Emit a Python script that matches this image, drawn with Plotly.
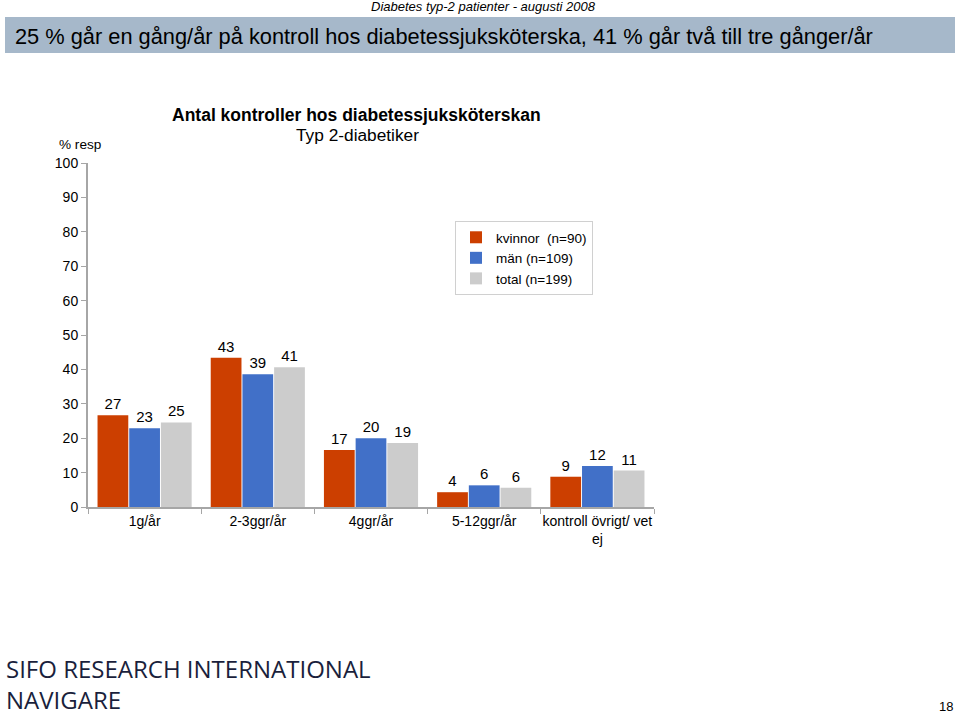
import plotly.graph_objects as go

categories = ["1g/år", "2-3ggr/år", "4ggr/år", "5-12ggr/år", "kontroll övrigt/ vet<br>ej"]
kvinnor = [26.7, 43.4, 16.6, 4.3, 8.8]
man = [22.9, 38.6, 20.0, 6.3, 11.9]
total = [24.6, 40.6, 18.6, 5.6, 10.6]
series_names = ["kvinnor\u00a0 (n=90)", "män (n=109)", "total (n=199)"]
series_colors = ["#CC3F00", "#4170C8", "#CCCCCC"]
y_ticks = [0, 10, 20, 30, 40, 50, 60, 70, 80, 90, 100]

FONT = "Liberation Sans, Arial, sans-serif"
L, R, T, B = 88, 306, 163, 208
PW = 960 - L - R
PH = 715 - T - B

fig = go.Figure()
for name, vals, col in zip(series_names, [kvinnor, man, total], series_colors):
    fig.add_trace(go.Bar(
        x=categories, y=vals, name=name, marker=dict(color=col, line=dict(width=0)),
        text=[f"{round(v):d}" for v in vals], textposition="outside",
        textfont=dict(family=FONT, size=15, color="#000000"), cliponaxis=False,
    ))

def ypix(p):
    return 1 + (T - p) / PH

def xpix(p):
    return (p - L) / PW

fig.update_layout(
    width=960, height=715,
    margin=dict(l=L, r=R, t=T, b=B, autoexpand=False),
    paper_bgcolor="white", plot_bgcolor="white",
    barmode="group", bargap=0.16, bargroupgap=0.03,
    font=dict(family=FONT, size=14, color="#000000"),
    showlegend=True,
    legend=dict(
        x=xpix(455), y=ypix(221), xanchor="left", yanchor="top",
        bgcolor="white", bordercolor="#D0D0D0", borderwidth=1,
        font=dict(family=FONT, size=13.5, color="#000000"),
        itemwidth=30, tracegroupgap=5,
    ),
)

fig.update_yaxes(
    range=[0, 100], tickvals=y_ticks, showgrid=False, zeroline=False, automargin=False,
    showline=True, linecolor="#A6A6A6", linewidth=2,
    ticks="outside", ticklen=5, tickcolor="#A6A6A6", tickwidth=1,
    tickfont=dict(family=FONT, size=14, color="#000000"),
)
fig.update_xaxes(
    showline=True, linecolor="#A6A6A6", linewidth=2, automargin=False, tickangle=0,
    ticks="outside", ticklen=5, tickcolor="#A6A6A6", tickwidth=1,
    tickson="boundaries", showgrid=False,
    tickfont=dict(family=FONT, size=14, color="#000000"),
)

# header banner
fig.add_shape(type="rect", xref="paper", yref="paper",
              x0=xpix(5), x1=xpix(955), y0=ypix(17), y1=ypix(53),
              fillcolor="#A6B8CA", line=dict(width=0), layer="below")

anns = [
    dict(text="<i>Diabetes typ-2 patienter - augusti 2008</i>", x=xpix(483), y=ypix(6),
         font=dict(size=13), xanchor="center"),
    dict(text="25 % går en gång/år på kontroll hos diabetessjuksköterska, 41 % går två till tre gånger/år",
         x=xpix(13), y=ypix(36), font=dict(size=21.8), xanchor="left"),
    dict(text="<b>Antal kontroller hos diabetessjuksköterskan</b>", x=xpix(356), y=ypix(115),
         font=dict(size=17.5), xanchor="center"),
    dict(text="Typ 2-diabetiker", x=xpix(357), y=ypix(135), font=dict(size=17.3), xanchor="center"),
    dict(text="% resp", x=xpix(80), y=ypix(145), font=dict(size=13.6), xanchor="center"),
    dict(text="SIFO RESEARCH INTERNATIONAL<br>NAVIGARE", x=xpix(4), y=ypix(684), align="left",
         font=dict(family="Open Sans, sans-serif", size=24, color="#1A1F3C"), xanchor="left"),
    dict(text="18", x=xpix(946), y=ypix(706), font=dict(size=13), xanchor="center"),
]
for a in anns:
    a.update(xref="paper", yref="paper", showarrow=False, yanchor="middle")
    fig.add_annotation(**a)

fig.write_html("out.html", config={"displayModeBar": False},
               post_script="document.body.style.margin='0px';document.body.style.overflow='hidden';")
